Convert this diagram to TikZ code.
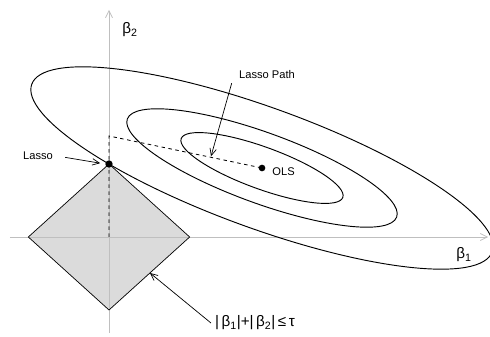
\documentclass[tikz,border=0pt]{standalone}
\usepackage{fontspec}
\setmainfont{Liberation Sans}
\usetikzlibrary{arrows.meta}
\tikzset{
  lbl/.style={font=\fontsize{9.5}{11}\selectfont},
  betalbl/.style={font=\fontsize{13}{15}\selectfont},
  axis/.style={-{Straight Barb[length=6pt,width=6pt]},gray!50,line width=0.6pt},
  contour/.style={line width=0.8pt},
  pointer/.style={-{Straight Barb[length=6pt,width=5.5pt]},line width=0.6pt}
}
\begin{document}
\begin{tikzpicture}[scale=1.0]
\useasboundingbox (-3.27,-3.0) rectangle (11.43,7.11);

% constraint region and axes
\fill[gray!28] (-2.42,0) -- (0,2.19) -- (2.42,0) -- (0,-2.19) -- cycle;
\draw[axis] (-2.97,0) -- (11.37,0);
\draw[axis] (0,-2.88) -- (0,6.81);
\draw[line width=0.6pt] (-2.42,0) -- (0,2.19) -- (2.42,0) -- (0,-2.19) -- cycle;
\node[betalbl] (b2) at (0.63,6.21) {β\textsubscript{2}};
\node[betalbl] (b1) at (10.65,-0.54) {β\textsubscript{1}};

% contours of the least squares loss
\foreach \a/\b in {2.58/0.63,4.3/1.06,7.35/1.81}
  \draw[contour,rotate around={-20:(4.59,2.07)}] (4.59,2.07) ellipse ({\a} and {\b});

% path from the lasso solution to OLS
\coordinate (origin) at (0,0);
\coordinate (corner) at (0,3.03);
\node[circle,fill,inner sep=0pt,minimum size=0.2cm] (ols) at (4.59,2.07) {};
\node[circle,fill,inner sep=0pt,minimum size=0.22cm] (lpt) at (0,2.19) {};
\draw[dashed,line width=0.7pt] (origin) -- (corner) -- (ols.center);
\node[lbl,anchor=west] (olslbl) at (4.78,1.95) {OLS};

\node[lbl] (lasso) at (-2.13,2.43) {Lasso};
\draw[pointer,shorten <=0.25cm,shorten >=0.15cm] (lasso.east) -- (lpt.west);

\node[lbl] (pathlbl) at (4.74,4.86) {Lasso Path};
\coordinate (ptip) at (3.06,2.42);
\draw[pointer] ([xshift=-0.1cm]pathlbl.south west) -- (ptip);

\node[betalbl] (cons) at (4.38,-2.58) {|\,β\textsubscript{1}|+|\,β\textsubscript{2}|\,≤\,τ};
\coordinate (edge) at (1.23,-1.08);
\draw[pointer] (cons.west) -- (edge);
\end{tikzpicture}
\end{document}
